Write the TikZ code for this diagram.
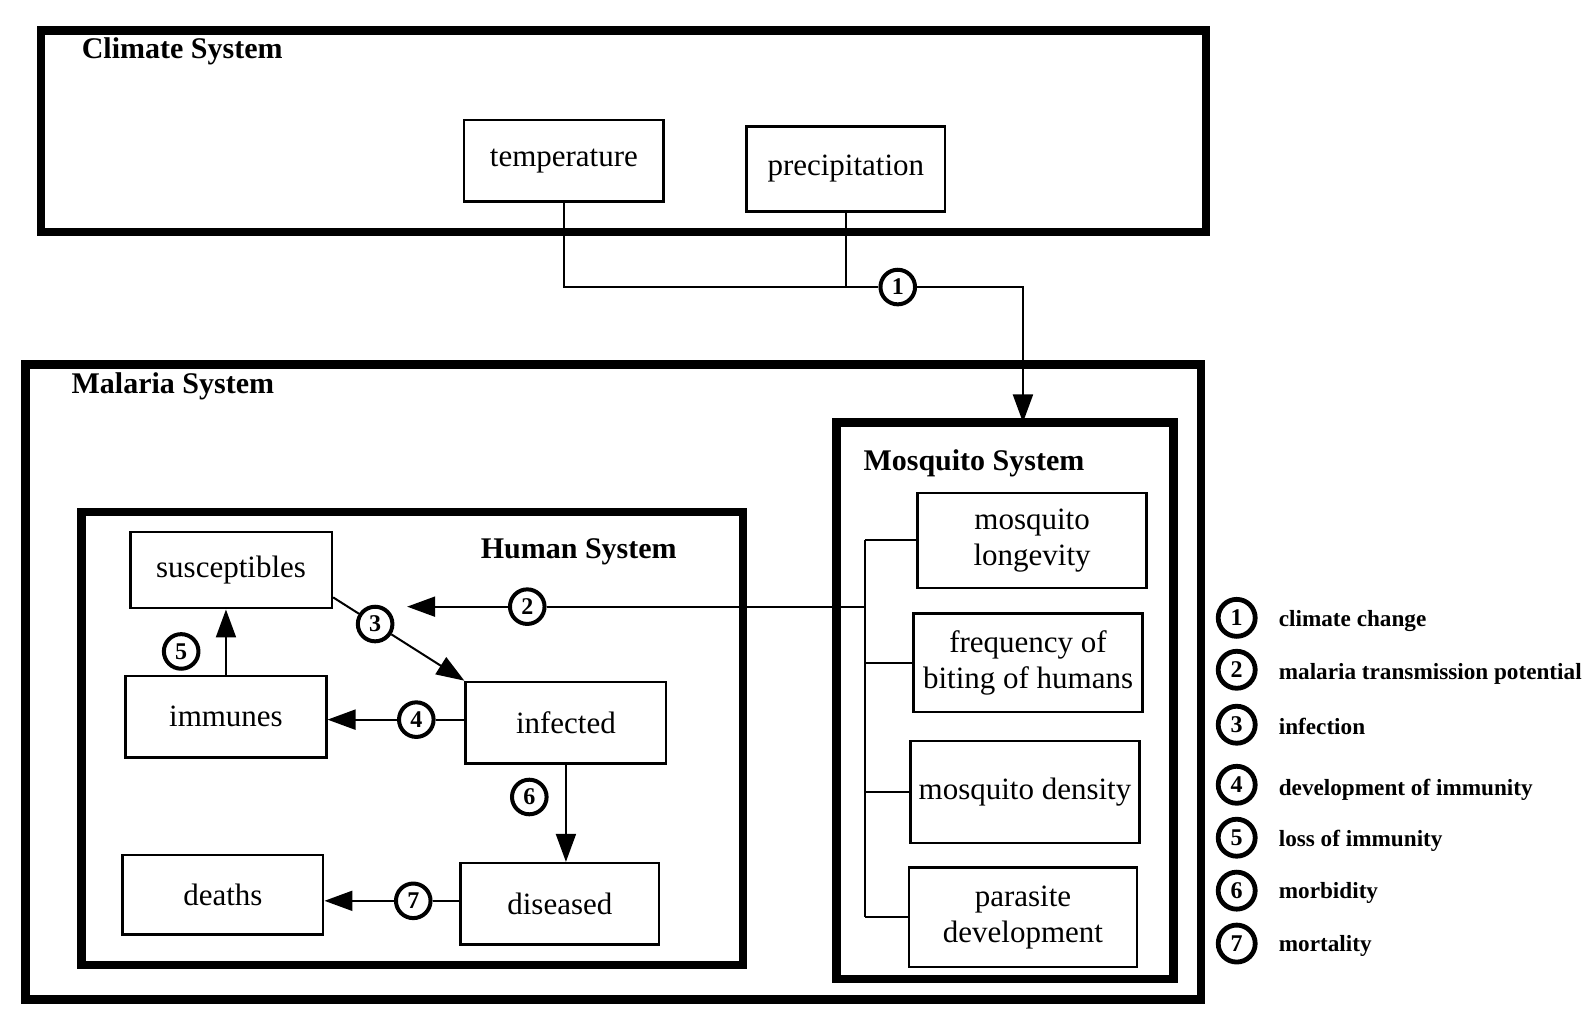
\documentclass[tikz,border=0pt]{standalone}
\usepackage{fontspec}
\setmainfont{Liberation Serif}
\usetikzlibrary{arrows.meta,fit,calc}
\begin{document}
\begin{tikzpicture}[x=0.509pt,y=-0.509pt,
  outer/.style={draw, line width=4.2pt},
  box/.style={draw, line width=1.3pt, inner sep=0pt, align=center, font=\fontsize{15.5}{18}\selectfont},
  title/.style={anchor=west, inner sep=0pt, font=\fontsize{15}{18}\selectfont\bfseries},
  num/.style={circle, draw, line width=2pt, fill=white, inner sep=0pt, minimum size=17.3pt, font=\fontsize{12}{12}\selectfont\bfseries},
  lnum/.style={num, line width=2.4pt, minimum size=18.5pt},
  leg/.style={anchor=west, inner sep=0pt, font=\fontsize{11.6}{13}\selectfont\bfseries},
  conn/.style={line width=1pt},
  arr/.style={line width=1pt, -{Triangle[length=14pt,width=10pt]}}
]
\useasboundingbox (0,0) rectangle (1568,1005);

% big boxes
\node[outer, inner sep=0pt, fit={(40,30) (1185,228)}] (climate) {};
\node[outer, inner sep=0pt, fit={(25,358) (1180,982)}] (malaria) {};
\node[outer, inner sep=0pt, fit={(822,415) (1153,962)}] (mosq) {};
\node[outer, inner sep=0pt, fit={(80,503) (730,948)}] (human) {};

\node[title] (tclim) at (80,50) {Climate System};
\node[title] (tmal) at (70,380) {Malaria System};
\node[title] (tmos) at (848,455) {Mosquito System};
\node[title] (thum) at (472,542) {Human System};

% climate boxes
\node[box, minimum width=196*0.509pt, minimum height=80*0.509pt] (temp) at (554,158) {temperature};
\node[box, minimum width=195*0.509pt, minimum height=83*0.509pt] (precip) at (831,166) {precipitation};

% mosquito boxes
\node[box, minimum width=225*0.509pt, minimum height=93*0.509pt] (mlong) at (1014,531) {mosquito\\longevity};
\node[box, minimum width=225*0.509pt, minimum height=97*0.509pt] (freq) at (1010,651) {frequency of\\biting of humans};
\node[box, minimum width=225*0.509pt, minimum height=100*0.509pt] (mdens) at (1007,778) {mosquito density};
\node[box, minimum width=224*0.509pt, minimum height=98*0.509pt] (paras) at (1005,901) {parasite\\development};

% human boxes
\node[box, minimum width=198*0.509pt, minimum height=75*0.509pt] (susc) at (227,560) {susceptibles};
\node[box, minimum width=197*0.509pt, minimum height=80*0.509pt] (imm) at (222,704) {immunes};
\node[box, minimum width=197*0.509pt, minimum height=80*0.509pt] (inf) at (556,710) {infected};
\node[box, minimum width=197*0.509pt, minimum height=78*0.509pt] (deaths) at (219,879) {deaths};
\node[box, minimum width=195*0.509pt, minimum height=80*0.509pt] (dis) at (550,888) {diseased};

% connector 1
\node[num] (c1) at (882,282) {1};
\coordinate (m1) at (1005,415);
\draw[conn] (temp.south) |- (c1.west);
\draw[conn] (precip.south) -- (precip.south |- c1.west);
\draw[arr] (c1.east) -| (m1);

% bracket
\coordinate (bt) at (850,531);
\coordinate (bb) at (850,901);
\draw[conn] (bt) -- (bb);
\draw[conn] (bt) -- (mlong.west);
\draw[conn] (freq.west -| bt) -- (freq.west);
\draw[conn] (mdens.west -| bt) -- (mdens.west);
\draw[conn] (bb) -- (paras.west);

% connector 2
\node[num] (c2) at (518,596) {2};
\coordinate (b2) at (850,596);
\coordinate (a2) at (400,596);
\draw[conn] (b2) -- (c2.east);
\draw[arr] (c2.west) -- (a2);

% connector 3
\node[num] (c3) at ($(susc.-15)!0.32!(inf.north west)$) {3};
\draw[conn] (susc.-15) -- (c3);
\draw[arr] (c3) -- (inf.north west);

% connector 4
\node[num] (c4) at (409,707) {4};
\draw[conn] (inf.west |- c4.east) -- (c4.east);
\draw[arr] (c4.west) -- (c4.west -| imm.east);

% connector 5
\node[num] (c5) at (178,640) {5};
\draw[arr] (imm.north) -- (imm.north |- susc.south);

% connector 6
\node[num] (c6) at (520,783) {6};
\draw[arr] (inf.south) -- (inf.south |- dis.north);

% connector 7
\node[num] (c7) at (406,885) {7};
\draw[conn] (dis.west |- c7.east) -- (c7.east);
\draw[arr] (c7.west) -- (c7.west -| deaths.east);

% legend
\node[lnum] (l1) at (1215,607) {1};
\node[lnum] (l2) at (1215,658) {2};
\node[lnum] (l3) at (1215,712) {3};
\node[lnum] (l4) at (1215,771) {4};
\node[lnum] (l5) at (1215,823) {5};
\node[lnum] (l6) at (1215,875) {6};
\node[lnum] (l7) at (1215,927) {7};
\node[leg] (t1) at (1256,610) {climate change};
\node[leg] (t2) at (1256,662) {malaria transmission potential};
\node[leg] (t3) at (1256,714) {infection};
\node[leg] (t4) at (1256,776) {development of immunity};
\node[leg] (t5) at (1256,826) {loss of immunity};
\node[leg] (t6) at (1256,877) {morbidity};
\node[leg] (t7) at (1256,929) {mortality};
\end{tikzpicture}
\end{document}
